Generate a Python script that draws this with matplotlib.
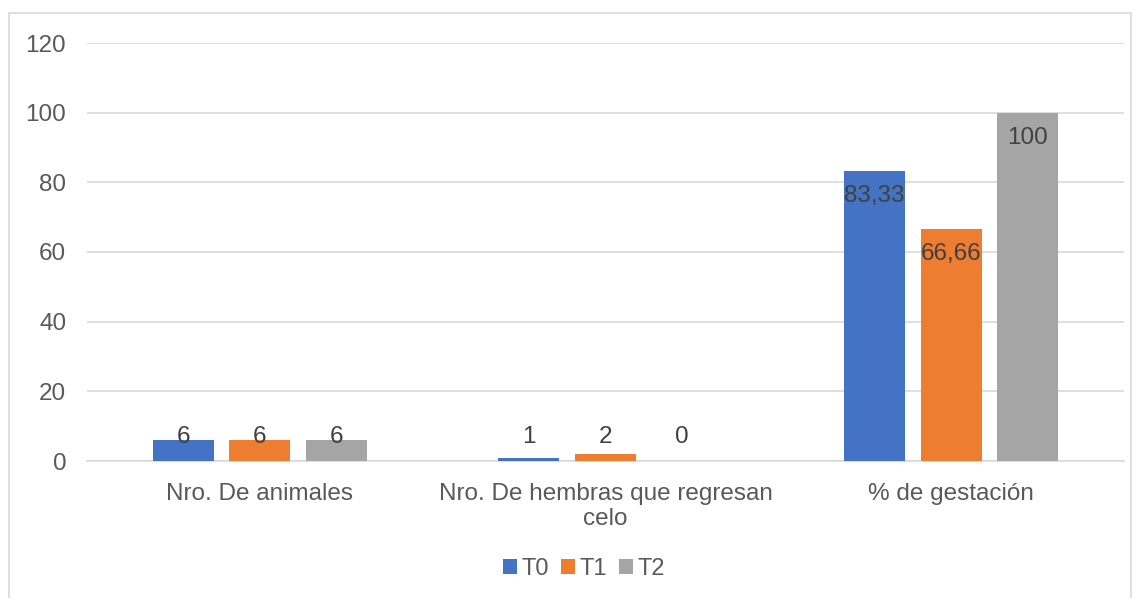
import matplotlib
matplotlib.use("Agg")
import matplotlib.pyplot as plt
import numpy as np
from matplotlib.patches import Rectangle

categories = ["Nro. De animales", "Nro. De hembras que regresan\ncelo", "% de gestación"]
series_names = ["T0", "T1", "T2"]
t0 = [6, 1, 83.33]
t1 = [6, 2, 66.66]
t2 = [6, 0, 100]
labels_t0 = ["6", "1", "83,33"]
labels_t1 = ["6", "2", "66,66"]
labels_t2 = ["6", "0", "100"]
colors = ["#4472C4", "#ED7D31", "#A5A5A5"]

plt.rcParams['font.family'] = ['Liberation Sans', 'DejaVu Sans']
W, H = 1140, 598
fig = plt.figure(figsize=(W/100, H/100), dpi=100)
ax = fig.add_axes([87/W, 1-461/H, (1124-87)/W, (461-43)/H])

# outer border
fig.patches.append(Rectangle((9/W, -0.01), (1131-9)/W, 1-13/H+0.01, transform=fig.transFigure,
                             fill=False, edgecolor="#D9D9D9", linewidth=1.2))

x = np.arange(len(categories))
bw = 0.177
step = 0.222
text_col = "#404040"
for i, (vals, labs, name) in enumerate(zip([t0, t1, t2], [labels_t0, labels_t1, labels_t2], series_names)):
    pos = x + (i - 1) * step
    ax.bar(pos, vals, width=bw, color=colors[i], label=name, zorder=3)
    for p, v, l in zip(pos, vals, labs):
        y = max(v - 7.2, 6.9)
        ax.text(p, y, l, ha="center", va="center", fontsize=17.5, color=text_col, zorder=4)

ax.set_xlim(-0.5, 2.5)
ax.set_ylim(0, 120)
ax.set_yticks(range(0, 121, 20))
ax.yaxis.grid(True, color="#D9D9D9", linewidth=1.2, zorder=0)
ax.set_axisbelow(True)
for s in ["top", "right", "left"]:
    ax.spines[s].set_visible(False)
ax.spines["bottom"].set_color("#D9D9D9")
ax.spines["bottom"].set_linewidth(1.2)
ax.tick_params(axis="both", length=0, labelsize=17.5, colors="#595959")
ax.tick_params(axis="y", pad=15)
ax.tick_params(axis="x", pad=16)
ax.set_xticks(x)
ax.set_xticklabels(categories, linespacing=1.15)

leg = fig.legend(loc="center", bbox_to_anchor=(584/W, 1-569/H), ncol=3, frameon=False,
                 fontsize=17, handlelength=0.6, handleheight=0.6, handletextpad=0.2,
                 columnspacing=0.5, labelcolor="#595959")

fig.savefig("out.png", dpi=100)
